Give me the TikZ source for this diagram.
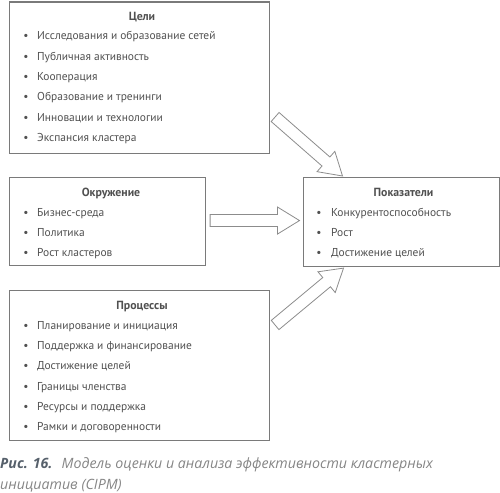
\documentclass[tikz,border=0pt]{standalone}
\usepackage{fontspec}
\setmainfont{PT Sans}
\newfontfamily\capfont{Open Sans}
\usetikzlibrary{calc}
\definecolor{txt}{HTML}{505050}
\definecolor{frame}{HTML}{7a7a7a}
\definecolor{arr}{HTML}{8c8c8c}
\definecolor{caphead}{HTML}{56606b}
\definecolor{captxt}{HTML}{858585}
\newcommand{\blockarr}[2]{%
  \coordinate (hb) at ($(#2)!22pt!(#1)$);
  \draw[blockarrow]
    ($(#1)!6pt!90:(#2)$) -- ($(hb)!6pt!90:(#2)$) -- ($(hb)!13.5pt!90:(#2)$) --
    (#2) --
    ($(hb)!13.5pt!-90:(#2)$) -- ($(hb)!6pt!-90:(#2)$) -- ($(#1)!6pt!-90:(#2)$) -- cycle;}
\begin{document}
\begin{tikzpicture}[x=1pt,y=-1pt,
  box/.style={draw=frame,line width=1.1pt,rectangle,inner sep=0pt,anchor=north west},
  itemtext/.style={anchor=base west,inner sep=0pt,text=txt,font=\fontsize{11.45}{14}\selectfont},
  bul/.style={anchor=base,inner sep=0pt,text=txt,font=\fontsize{11.45}{14}\selectfont},
  title/.style={anchor=base,inner sep=0pt,text=txt,font=\fontsize{11.8}{14}\selectfont\bfseries},
  captext/.style={anchor=base west,inner sep=0pt,text=captxt,font=\capfont\fontsize{14.2}{16}\selectfont\itshape},
  blockarrow/.style={draw=arr,line width=0.8pt,fill=white,line join=miter}]
\useasboundingbox (0,0) rectangle (500,492);

% boxes
\node[box,minimum width=260pt,minimum height=151pt] (A) at (9,1.5) {};
\node[box,minimum width=196pt,minimum height=88pt] (B) at (9,177) {};
\node[box,minimum width=196pt,minimum height=89pt] (C) at (302.5,177) {};
\node[box,minimum width=260pt,minimum height=150pt] (D) at (9,290) {};

% titles
\node[title] (tA) at (142,20.5) {Цели};
\node[title] (tB) at (111,196.5) {Окружение};
\node[title] (tC) at (403.5,196.5) {Показатели};
\node[title] (tD) at (142,309.5) {Процессы};

% items
\foreach \t [count=\i] in {Исследования и образование сетей,Публичная активность,Кооперация,Образование и тренинги,Инновации и технологии,Экспансия кластера}{
  \node[bul] (bA\i) at (26,{39.8+20.4*(\i-1)}) {•};
  \node[itemtext] (iA\i) at (37,{39.8+20.4*(\i-1)}) {\t};
}
\foreach \t [count=\i] in {Бизнес-среда,Политика,Рост кластеров}{
  \node[bul] (bB\i) at (26,{216.5+20*(\i-1)}) {•};
  \node[itemtext] (iB\i) at (37,{216.5+20*(\i-1)}) {\t};
}
\foreach \t [count=\i] in {Конкурентоспособность,Рост,Достижение целей}{
  \node[bul] (bC\i) at (319,{216.5+20*(\i-1)}) {•};
  \node[itemtext] (iC\i) at (331,{216.5+20*(\i-1)}) {\t};
}
\foreach \t [count=\i] in {Планирование и инициация,Поддержка и финансирование,Достижение целей,Границы членства,Ресурсы и поддержка,Рамки и договоренности}{
  \node[bul] (bD\i) at (26,{329.5+20.2*(\i-1)}) {•};
  \node[itemtext] (iD\i) at (37,{329.5+20.2*(\i-1)}) {\t};
}

% arrows
\coordinate (a1s) at ($(A.north east)+(5,115.5)$);
\coordinate (a1e) at ($(C.north west)+(40,-1)$);
\coordinate (a2s) at ($(B.east)+(4,-1)$);
\coordinate (a2e) at ($(C.west)+(-3,-1.5)$);
\coordinate (a3s) at ($(D.north east)+(5,35)$);
\coordinate (a3e) at ($(C.south west)+(41,1)$);
\blockarr{a1s}{a1e}
\blockarr{a2s}{a2e}
\blockarr{a3s}{a3e}

% caption
\node[captext] (cap1) at (0,468.5) {{\bfseries\color{caphead}Рис. 16.}\hspace{0.3em} Модель оценки и анализа эффективности кластерных};
\node[captext] (cap2) at (0,489) {инициатив (CIPM)};
\end{tikzpicture}
\end{document}
